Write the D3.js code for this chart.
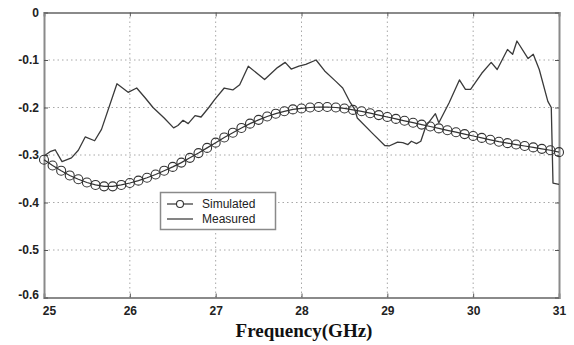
<!DOCTYPE html>
<html><head><meta charset="utf-8">
<script src="https://cdn.jsdelivr.net/npm/d3@7"></script>
<style>
html,body{margin:0;padding:0;background:#fff;}
svg{display:block;}
</style></head>
<body>
<svg id="chart" width="574" height="345"></svg>
<script>
const xTicks = [25, 26, 27, 28, 29, 30, 31];
const yTicks = [0, -0.1, -0.2, -0.3, -0.4, -0.5, -0.6];
const yTickLabels = ["0", "-0.1", "-0.2", "-0.3", "-0.4", "-0.5", "-0.6"];
const xLabel = "Frequency(GHz)";
const seriesNames = ["Simulated", "Measured"];

const simFreq = [25.0,25.1,25.2,25.3,25.4,25.5,25.6,25.7,25.8,25.9,26.0,26.1,26.2,26.3,26.4,26.5,26.6,26.7,26.8,26.9,27.0,27.1,27.2,27.3,27.4,27.5,27.6,27.7,27.8,27.9,28.0,28.1,28.2,28.3,28.4,28.5,28.6,28.7,28.8,28.9,29.0,29.1,29.2,29.3,29.4,29.5,29.6,29.7,29.8,29.9,30.0,30.1,30.2,30.3,30.4,30.5,30.6,30.7,30.8,30.9,31.0];
const simVal = [-0.310,-0.322,-0.333,-0.343,-0.351,-0.358,-0.363,-0.366,-0.366,-0.363,-0.359,-0.354,-0.348,-0.341,-0.333,-0.325,-0.316,-0.306,-0.296,-0.285,-0.274,-0.263,-0.253,-0.243,-0.234,-0.226,-0.219,-0.213,-0.208,-0.204,-0.202,-0.200,-0.199,-0.199,-0.200,-0.202,-0.205,-0.208,-0.212,-0.216,-0.220,-0.224,-0.228,-0.232,-0.236,-0.240,-0.244,-0.248,-0.252,-0.256,-0.260,-0.264,-0.268,-0.272,-0.275,-0.278,-0.281,-0.284,-0.287,-0.290,-0.294];

const measFreq = [25.00,25.07,25.13,25.21,25.32,25.40,25.48,25.59,25.67,25.85,25.98,26.08,26.18,26.27,26.40,26.51,26.56,26.62,26.68,26.76,26.83,26.92,26.99,27.10,27.20,27.28,27.38,27.57,27.72,27.81,27.88,27.97,28.05,28.17,28.27,28.40,28.48,28.56,28.62,28.65,28.83,28.97,29.02,29.12,29.18,29.24,29.28,29.34,29.39,29.45,29.56,29.60,29.72,29.84,29.91,29.97,30.10,30.21,30.28,30.40,30.46,30.51,30.64,30.70,30.77,30.87,30.91,30.93,31.00];
const measVal = [-0.302,-0.293,-0.289,-0.314,-0.306,-0.290,-0.262,-0.270,-0.246,-0.150,-0.168,-0.159,-0.180,-0.200,-0.222,-0.243,-0.238,-0.227,-0.234,-0.217,-0.220,-0.200,-0.183,-0.159,-0.163,-0.152,-0.113,-0.141,-0.116,-0.105,-0.119,-0.113,-0.109,-0.100,-0.123,-0.145,-0.159,-0.187,-0.204,-0.222,-0.255,-0.280,-0.281,-0.273,-0.274,-0.278,-0.271,-0.276,-0.271,-0.239,-0.213,-0.232,-0.190,-0.142,-0.162,-0.162,-0.128,-0.105,-0.120,-0.078,-0.088,-0.060,-0.097,-0.088,-0.120,-0.187,-0.200,-0.359,-0.362];

const svg = d3.select("#chart");
const L = 44, R = 559, T = 12.5, B = 297.5;
const x = d3.scaleLinear().domain([25, 31]).range([L, R]);
const y = d3.scaleLinear().domain([-0.6, 0]).range([B, T]);

// grid
const grid = svg.append("g").attr("stroke", "#a8a8a8").attr("stroke-width", 1).attr("stroke-dasharray", "1.5,3");
grid.selectAll("line.v").data(xTicks.slice(1, -1)).join("line")
  .attr("x1", d => x(d)).attr("x2", d => x(d)).attr("y1", T).attr("y2", B);
grid.selectAll("line.h").data(yTicks.slice(1, -1)).join("line")
  .attr("x1", L).attr("x2", R).attr("y1", d => y(d)).attr("y2", d => y(d));

// axes
const axColor = "#8a8a8a";
const fmtY = d => yTickLabels[yTicks.indexOf(d)];
const gx = svg.append("g").attr("transform", `translate(0,${B})`)
  .call(d3.axisBottom(x).tickValues(xTicks).tickSize(-4).tickPadding(9).tickFormat(d3.format("d")));
const gxTop = svg.append("g").attr("transform", `translate(0,${T})`)
  .call(d3.axisTop(x).tickValues(xTicks).tickSize(-4).tickFormat(""));
const gy = svg.append("g").attr("transform", `translate(${L},0)`)
  .call(d3.axisLeft(y).tickValues(yTicks).tickSize(-4).tickPadding(5).tickFormat(fmtY));
const gyR = svg.append("g").attr("transform", `translate(${R},0)`)
  .call(d3.axisRight(y).tickValues(yTicks).tickSize(-4).tickFormat(""));
[gx, gxTop, gy, gyR].forEach(g => {
  g.select(".domain").attr("stroke", axColor).attr("stroke-width", 2);
  g.selectAll(".tick line").attr("stroke", "#555").attr("stroke-width", 1);
  g.selectAll("text").attr("fill", "#222").style("font-family", "Liberation Sans, Arial, sans-serif")
    .style("font-size", "12px").style("font-weight", "bold");
});
gx.selectAll(".tick text").filter(d => d === 25).attr("dx", "5");
gy.selectAll(".tick text").filter(d => d === -0.6).attr("dy", "0.1em");

// lines
const lineGen = d3.line().x(d => x(d[0])).y(d => y(d[1]));
const simData = simFreq.map((f, i) => [f, simVal[i]]);
const measData = measFreq.map((f, i) => [f, measVal[i]]);

svg.append("path").datum(simData).attr("d", lineGen)
  .attr("fill", "none").attr("stroke", "#333").attr("stroke-width", 1.2);
svg.append("g").selectAll("circle").data(simData).join("circle")
  .attr("cx", d => x(d[0])).attr("cy", d => y(d[1])).attr("r", 4.5)
  .attr("fill", "none").attr("stroke", "#333").attr("stroke-width", 1.1);

svg.append("path").datum(measData).attr("d", lineGen)
  .attr("fill", "none").attr("stroke", "#3a3a3a").attr("stroke-width", 1.3).attr("stroke-linejoin", "round");

// legend
const lg = svg.append("g");
lg.append("rect").attr("x", 160.5).attr("y", 192.5).attr("width", 115).attr("height", 37)
  .attr("fill", "#fff").attr("stroke", "#8a8a8a").attr("stroke-width", 1.5);
lg.append("line").attr("x1", 167).attr("x2", 193).attr("y1", 204).attr("y2", 204).attr("stroke", "#333").attr("stroke-width", 1.2);
lg.append("circle").attr("cx", 180).attr("cy", 204).attr("r", 3.5).attr("fill", "#fff").attr("stroke", "#333").attr("stroke-width", 1.1);
lg.append("line").attr("x1", 167).attr("x2", 193).attr("y1", 219).attr("y2", 219).attr("stroke", "#333").attr("stroke-width", 1.2);
lg.selectAll("text.leg").data(seriesNames).join("text")
  .attr("x", 202).attr("y", (d, i) => 208 + i * 15)
  .style("font-family", "Liberation Sans, Arial, sans-serif").style("font-size", "12px")
  .attr("fill", "#222").text(d => d);

// x label
svg.append("text").attr("x", 304).attr("y", 337).attr("text-anchor", "middle")
  .style("font-family", "Liberation Serif, 'Times New Roman', serif").style("font-size", "19px")
  .style("font-weight", "bold").attr("fill", "#111").text(xLabel);
</script>
</body></html>
